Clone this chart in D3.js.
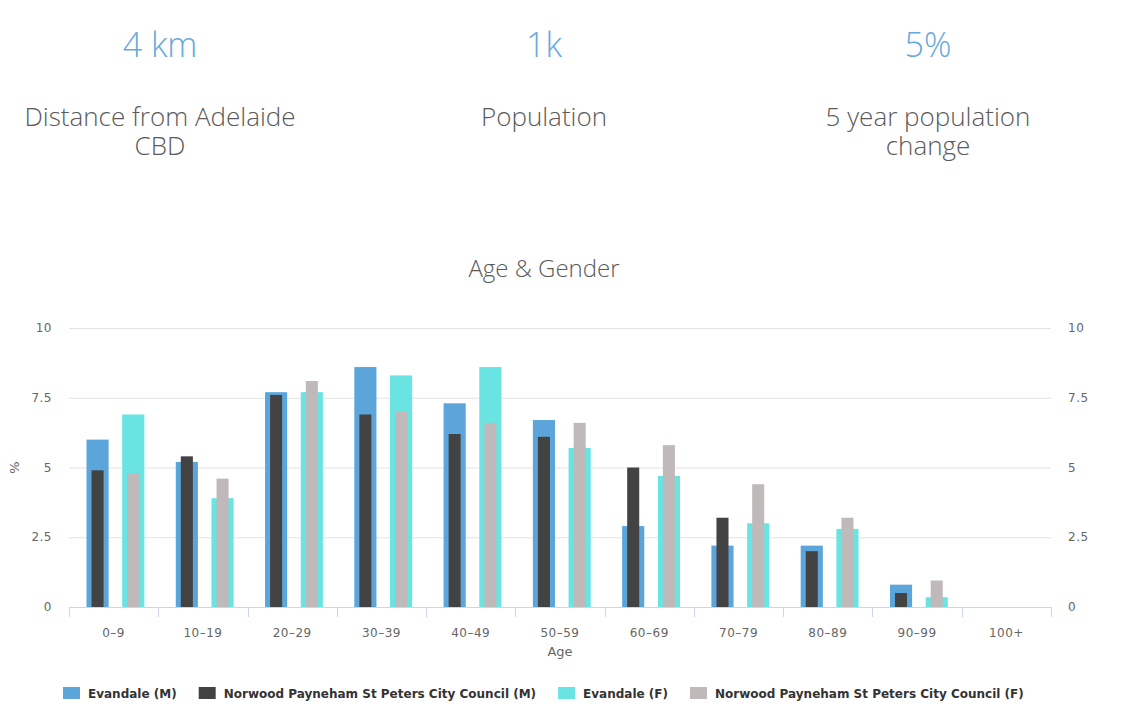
<!DOCTYPE html>
<html>
<head>
<meta charset="utf-8">
<script src="https://cdn.jsdelivr.net/npm/d3@7"></script>
<style>
  body { margin: 0; background: #fff; }
  svg { display: block; }
</style>
</head>
<body>
<svg width="1121" height="720"></svg>
<script>
// Headline stats
const statValues = ['4 km', '1k', '5%']
const statLabels = [['Distance from Adelaide', 'CBD'], ['Population'], ['5 year population', 'change']]

// Age & Gender data (% of population)
const ageGroups = ['0–9', '10–19', '20–29', '30–39', '40–49', '50–59', '60–69', '70–79', '80–89', '90–99', '100+']
const evandaleM = [6.0, 5.2, 7.7, 8.6, 7.3, 6.7, 2.9, 2.2, 2.2, 0.8, 0]
const norwoodM = [4.9, 5.4, 7.6, 6.9, 6.2, 6.1, 5.0, 3.2, 2.0, 0.5, 0]
const evandaleF = [6.9, 3.9, 7.7, 8.3, 8.6, 5.7, 4.7, 3.0, 2.8, 0.35, 0]
const norwoodF = [4.8, 4.6, 8.1, 7.0, 6.6, 6.6, 5.8, 4.4, 3.2, 0.95, 0]
const yTicks = [0, 2.5, 5, 7.5, 10]
const seriesNames = ['Evandale (M)', 'Norwood Payneham St Peters City Council (M)', 'Evandale (F)', 'Norwood Payneham St Peters City Council (F)']

const colors = ['#5ca5db', '#434343', '#6ae3e3', '#bfb9b9']

const svg = d3.select('svg')

// Stats row
const statX = d3.scalePoint().domain([0, 1, 2]).range([160, 928])
const stats = svg.selectAll('g.stat').data(statValues).join('g')
  .attr('class', 'stat')
  .attr('transform', (d, i) => `translate(${statX(i)},0)`)
stats.append('text')
  .attr('y', 57)
  .attr('text-anchor', 'middle')
  .attr('font-family', 'Open Sans')
  .attr('font-weight', 300)
  .attr('font-size', 34)
  .attr('fill', '#67a9dc')
  .text((d) => d)
// label lines go in one text element as tspans (wrapped label)
stats.append('text')
  .attr('text-anchor', 'middle')
  .attr('font-family', 'Open Sans')
  .attr('font-weight', 300)
  .attr('font-size', 26)
  .attr('fill', '#5a5a5a')
  .each(function (d, i) {
    d3.select(this).selectAll('tspan').data(statLabels[i]).join('tspan')
      .attr('x', 0)
      .attr('y', (t, j) => 126 + j * 28.5)
      .text((t) => t)
  })

// Chart title
svg.append('text')
  .attr('x', 544).attr('y', 277)
  .attr('text-anchor', 'middle')
  .attr('font-family', 'Open Sans')
  .attr('font-weight', 300)
  .attr('font-size', 24)
  .attr('fill', '#5a5a5a')
  .text('Age & Gender')

// Plot area
const plotLeft = 69, plotRight = 1051, plotTop = 328, plotBottom = 607
const x = d3.scaleBand().domain(ageGroups).range([plotLeft, plotRight])
const y = d3.scaleLinear().domain([0, 10]).range([plotBottom, plotTop])
const bw = x.bandwidth()
// group centres inside each band (male / female)
const gx = d3.scalePoint().domain(['M', 'F']).range([bw * 0.32, bw * 0.72])
const wideW = bw * 0.248, narrowW = bw * 0.135

const axisFont = 'DejaVu Sans'

// gridlines
svg.append('g').selectAll('line').data(yTicks).join('line')
  .attr('x1', plotLeft).attr('x2', plotRight)
  .attr('y1', (d) => y(d) + 0.5).attr('y2', (d) => y(d) + 0.5)
  .attr('stroke', '#e3e3e3')

// y labels, left and right
svg.append('g').selectAll('text').data(yTicks).join('text')
  .attr('x', 52).attr('y', (d) => y(d) + 4)
  .attr('text-anchor', 'end')
  .attr('font-family', axisFont).attr('font-size', 12).attr('fill', '#666')
  .attr('letter-spacing', 0.5)
  .text((d) => d)
svg.append('g').selectAll('text').data(yTicks).join('text')
  .attr('x', 1068).attr('y', (d) => y(d) + 4)
  .attr('text-anchor', 'start')
  .attr('font-family', axisFont).attr('font-size', 12).attr('fill', '#666')
  .attr('letter-spacing', 0.5)
  .text((d) => d)

svg.append('text')
  .attr('transform', `translate(19,${(plotTop + plotBottom) / 2}) rotate(-90)`)
  .attr('text-anchor', 'middle')
  .attr('font-family', axisFont).attr('font-size', 13).attr('fill', '#666')
  .text('%')

// bars
const bars = [
  { vals: evandaleM, g: 'M', w: wideW, c: colors[0] },
  { vals: norwoodM, g: 'M', w: narrowW, c: colors[1] },
  { vals: evandaleF, g: 'F', w: wideW, c: colors[2] },
  { vals: norwoodF, g: 'F', w: narrowW, c: colors[3] },
]
bars.forEach((s) => {
  svg.append('g').selectAll('rect').data(s.vals).join('rect')
    .attr('x', (d, i) => x(ageGroups[i]) + gx(s.g) - s.w / 2)
    .attr('width', s.w)
    .attr('y', (d) => y(d))
    .attr('height', (d) => y(0) - y(d))
    .attr('fill', s.c)
})

// x axis
const xAxis = svg.append('g')
xAxis.append('line')
  .attr('x1', plotLeft).attr('x2', plotRight)
  .attr('y1', plotBottom + 0.5).attr('y2', plotBottom + 0.5)
  .attr('stroke', '#ccd6eb')
const bounds = ageGroups.map((d) => x(d)).concat([plotRight])
xAxis.selectAll('line.tick').data(bounds).join('line')
  .attr('class', 'tick')
  .attr('x1', (d) => Math.round(d) + 0.5).attr('x2', (d) => Math.round(d) + 0.5)
  .attr('y1', plotBottom).attr('y2', plotBottom + 10)
  .attr('stroke', '#ccd6eb')
xAxis.selectAll('text').data(ageGroups).join('text')
  .attr('x', (d) => x(d) + bw / 2)
  .attr('y', plotBottom + 30)
  .attr('text-anchor', 'middle')
  .attr('font-family', axisFont).attr('font-size', 12).attr('fill', '#666')
  .attr('letter-spacing', 0.5)
  .text((d) => d)
svg.append('text')
  .attr('x', (plotLeft + plotRight) / 2).attr('y', 656)
  .attr('text-anchor', 'middle')
  .attr('font-family', axisFont).attr('font-size', 13).attr('fill', '#666')
  .text('Age')

// legend
const legend = svg.append('g')
let lx = 63
seriesNames.forEach((name, i) => {
  legend.append('rect')
    .attr('x', lx).attr('y', 687)
    .attr('width', 17).attr('height', 12)
    .attr('fill', colors[i])
  const t = legend.append('text')
    .attr('x', lx + 25).attr('y', 698)
    .attr('font-family', axisFont).attr('font-weight', 'bold')
    .attr('font-size', 12).attr('fill', '#333')
    .text(name)
  lx += 25 + t.node().getComputedTextLength() + 22
})
</script>
</body>
</html>
